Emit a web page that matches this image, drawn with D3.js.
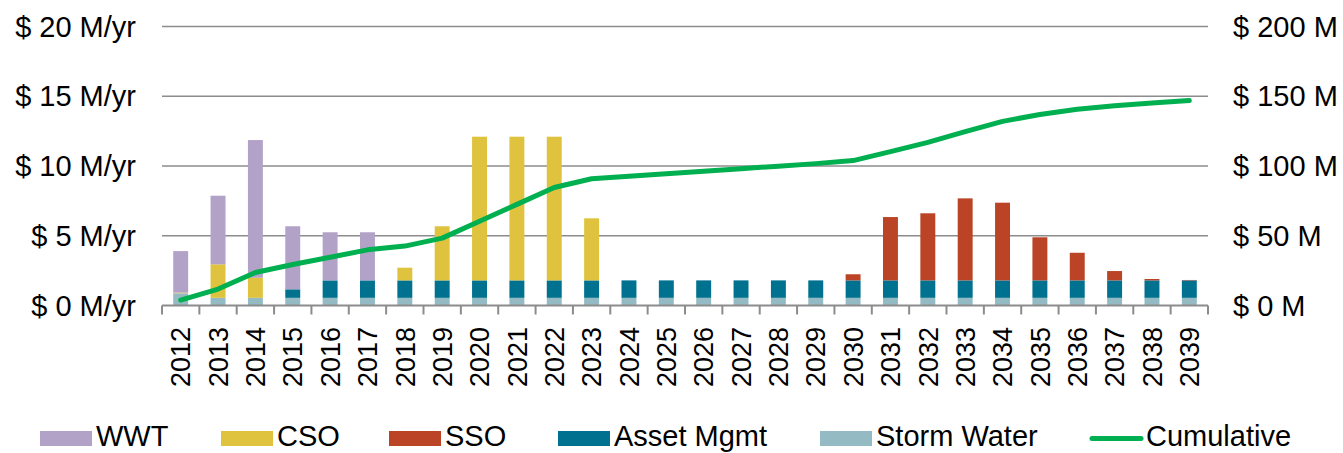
<!DOCTYPE html>
<html>
<head>
<meta charset="utf-8">
<script src="https://cdn.jsdelivr.net/npm/d3@7"></script>
<style>
  body { margin: 0; background: #fff; }
  text { font-family: "Liberation Sans", Arial, sans-serif; fill: #000; }
</style>
</head>
<body>
<script>
var w = 1343,
    h = 453;

// data
var years = d3.range(2012, 2040).map(String);
var seriesNames = ["Storm Water", "Asset Mgmt", "SSO", "CSO", "WWT"];
var stormWater = [0.87, 0.55, 0.55, 0.55, 0.55, 0.55, 0.55, 0.55, 0.55, 0.55, 0.55, 0.55, 0.55, 0.55,
                  0.55, 0.55, 0.55, 0.55, 0.55, 0.55, 0.55, 0.55, 0.55, 0.55, 0.55, 0.55, 0.55, 0.55];
var assetMgmt = [0, 0, 0, 0.61, 1.25, 1.25, 1.25, 1.25, 1.25, 1.25, 1.25, 1.25, 1.25, 1.25,
                 1.25, 1.25, 1.25, 1.25, 1.25, 1.25, 1.25, 1.25, 1.25, 1.25, 1.25, 1.25, 1.25, 1.25];
var sso = [0, 0, 0, 0, 0, 0, 0, 0, 0, 0, 0, 0, 0, 0,
           0, 0, 0, 0, 0.44, 4.54, 4.81, 5.88, 5.57, 3.09, 1.98, 0.67, 0.1, 0.03];
var cso = [0.05, 2.4, 1.44, 0, 0, 0, 0.91, 3.88, 10.3, 10.3, 10.3, 4.45, 0, 0,
           0, 0, 0, 0, 0, 0, 0, 0, 0, 0, 0, 0, 0, 0];
var wwt = [2.98, 4.92, 9.87, 4.52, 3.45, 3.45, 0, 0, 0, 0, 0, 0, 0, 0,
           0, 0, 0, 0, 0, 0, 0, 0, 0, 0, 0, 0, 0, 0];
var cumulative = [3.9, 11.8, 23.7, 29.4, 34.6, 39.9, 42.6, 48.3, 60.4, 72.5, 84.6, 90.9, 92.7, 94.5,
                  96.3, 98.1, 99.9, 101.7, 103.9, 110.3, 116.9, 124.6, 132.0, 136.9, 140.7, 143.2, 145.1, 146.9];
var leftTicks = [0, 5, 10, 15, 20];
var rightTicks = [0, 50, 100, 150, 200];

var colors = {
  "WWT": "#b3a2c7",
  "CSO": "#dfc33f",
  "SSO": "#bb4426",
  "Asset Mgmt": "#00718f",
  "Storm Water": "#94bac3"
};
var lineColor = "#00b050";

var values = {
  "Storm Water": stormWater,
  "Asset Mgmt": assetMgmt,
  "SSO": sso,
  "CSO": cso,
  "WWT": wwt
};

var table = years.map(function(y, i) {
  var row = { year: y };
  seriesNames.forEach(function(s) { row[s] = values[s][i]; });
  return row;
});

var plotLeft = 162, plotRight = 1208, plotTop = 26.5, plotBottom = 305.5;

var svg = d3.select("body").append("svg")
    .attr("width", w)
    .attr("height", h);

var x = d3.scaleBand().domain(years).range([plotLeft, plotRight]).paddingInner(0.6).paddingOuter(0.3);
var xb = d3.scaleBand().domain(years).range([plotLeft, plotRight]);
var y = d3.scaleLinear().domain([0, 20]).range([plotBottom, plotTop]);
var y2 = d3.scaleLinear().domain([0, 200]).range([plotBottom, plotTop]);

// gridlines
svg.append("g").selectAll("line").data(leftTicks.slice(1)).enter().append("line")
    .attr("x1", plotLeft).attr("x2", plotRight)
    .attr("y1", function(d) { return y(d); })
    .attr("y2", function(d) { return y(d); })
    .style("stroke", "#8c8c8c")
    .style("stroke-width", "1.5px");

// left axis labels
svg.append("g").selectAll("text").data(leftTicks).enter().append("text")
    .attr("x", 136)
    .attr("y", function(d) { return y(d); })
    .attr("dy", "0.35em")
    .attr("text-anchor", "end")
    .style("font-size", "29px")
    .text(function(d) { return "$ " + d + " M/yr"; });

// right axis labels
svg.append("g").selectAll("text").data(rightTicks).enter().append("text")
    .attr("x", 1233)
    .attr("y", function(d) { return y2(d); })
    .attr("dy", "0.35em")
    .style("font-size", "29px")
    .text(function(d) { return "$ " + d + " M"; });

// stacked bars
var stack = d3.stack().keys(seriesNames)(table);
svg.append("g").selectAll("g").data(stack).enter().append("g")
    .style("fill", function(d) { return colors[d.key]; })
  .selectAll("rect").data(function(d) { return d; }).enter().append("rect")
    .attr("x", function(d) { return x(d.data.year); })
    .attr("width", x.bandwidth())
    .attr("y", function(d) { return y(d[1]); })
    .attr("height", function(d) { return y(d[0]) - y(d[1]); });

// x axis
var xAxis = svg.append("g")
    .attr("transform", "translate(0," + plotBottom + ")");
xAxis.append("line")
    .attr("x1", plotLeft).attr("x2", plotRight)
    .style("stroke", "#8c8c8c").style("stroke-width", "2px");
xAxis.selectAll(".bt").data(years.concat(["end"])).enter().append("line")
    .attr("class", "bt")
    .attr("x1", function(d, i) { return plotLeft + i * xb.step(); })
    .attr("x2", function(d, i) { return plotLeft + i * xb.step(); })
    .attr("y1", 0).attr("y2", 9)
    .style("stroke", "#8c8c8c").style("stroke-width", "2px");

svg.append("g").selectAll("text").data(years).enter().append("text")
    .attr("transform", function(d) {
      return "translate(" + (xb(d) + xb.bandwidth() / 2) + ",327) rotate(-90)";
    })
    .attr("dy", "0.36em")
    .attr("text-anchor", "end")
    .style("font-size", "27px")
    .text(function(d) { return d; });

// cumulative line
var line = d3.line()
    .x(function(d, i) { return xb(years[i]) + xb.bandwidth() / 2; })
    .y(function(d) { return y2(d); });
svg.append("path")
    .datum(cumulative)
    .attr("d", line)
    .style("fill", "none")
    .style("stroke", lineColor)
    .style("stroke-width", "5px")
    .style("stroke-linejoin", "round")
    .style("stroke-linecap", "round");

// legend
var legendItems = [
  { name: "WWT", x: 40 },
  { name: "CSO", x: 221 },
  { name: "SSO", x: 389 },
  { name: "Asset Mgmt", x: 558 },
  { name: "Storm Water", x: 820 },
  { name: "Cumulative", x: 1090, line: true }
];
var lg = svg.append("g").selectAll("g").data(legendItems).enter().append("g")
    .attr("transform", function(d) { return "translate(" + d.x + ",436)"; });
lg.filter(function(d) { return !d.line; }).append("rect")
    .attr("x", 0).attr("y", -5)
    .attr("width", 52).attr("height", 15)
    .style("fill", function(d) { return colors[d.name]; });
lg.filter(function(d) { return d.line; }).append("line")
    .attr("x1", 2).attr("x2", 51).attr("y1", 2.5).attr("y2", 2.5)
    .style("stroke", lineColor)
    .style("stroke-width", "5px")
    .style("stroke-linecap", "round");
lg.append("text")
    .attr("x", 56)
    .attr("y", 0)
    .attr("dy", "0.36em")
    .style("font-size", "29px")
    .text(function(d) { return d.name; });
</script>
</body>
</html>
